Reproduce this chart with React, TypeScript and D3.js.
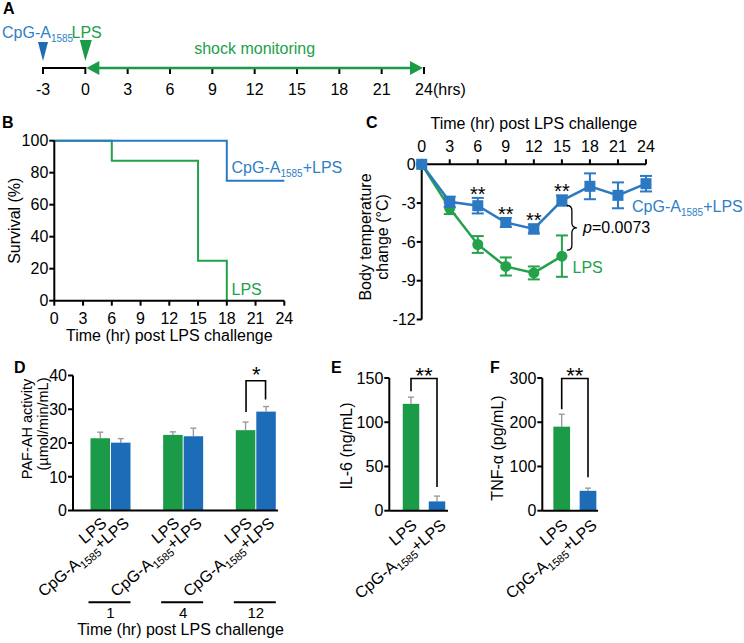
import React from 'react';
import * as d3 from 'd3';

const FONT = "'Liberation Sans', Arial, Helvetica, sans-serif";
const GREEN = '#1b9a48';
const BLUE = '#1d6cb8';
const GREEN_LINE = '#25a14c';
const BLUE_LINE = '#2a79c2';
const BLUE_TEXT = '#2f80c6';
const GREEN_TEXT = '#22a04b';
const ERR = '#9a9a9a';

// ---------- Panel A: timeline ----------
const timelineTicks = [-3, 0, 3, 6, 9, 12, 15, 18, 21, 24];

// ---------- Panel B: survival ----------
const survTimesCpG = [0, 18, 24];
const survValsCpG = [100, 75, 75];
const survTimesLPS = [0, 6, 15, 18];
const survValsLPS = [100, 87.5, 25, 0];
const survXTicks = [0, 3, 6, 9, 12, 15, 18, 21, 24];
const survYTicks = [0, 20, 40, 60, 80, 100];

// ---------- Panel C: body temperature ----------
const tempTimesCpG = [0, 3, 6, 9, 12, 15, 18, 21, 24];
const tempCpG = [0, -2.9, -3.2, -4.5, -5.0, -2.8, -1.7, -2.4, -1.5];
const tempCpGErr = [0, 0.4, 0.6, 0.35, 0.35, 0.4, 1.0, 1.0, 0.6];
const tempTimesLPS = [0, 3, 6, 9, 12, 15];
const tempLPS = [0, -3.4, -6.2, -7.9, -8.4, -7.1];
const tempLPSErr = [0, 0.45, 0.65, 0.7, 0.5, 1.6];
const tempSigTimes = [6, 9, 12, 15];
const tempXTicks = [0, 3, 6, 9, 12, 15, 18, 21, 24];
const tempYTicks = [0, -3, -6, -9, -12];

// ---------- Panel D: PAF-AH ----------
const pafGroups = ['1', '4', '12'];
const pafLPS = [21.4, 22.4, 23.8];
const pafLPSErr = [1.8, 0.9, 2.4];
const pafCpG = [20.1, 22.0, 29.3];
const pafCpGErr = [1.2, 2.4, 1.5];
const pafYTicks = [0, 10, 20, 30, 40];

// ---------- Panel E: IL-6 ----------
const il6Vals = [120.8, 10.5];
const il6Err = [7.5, 6];
const il6YTicks = [0, 50, 100, 150];

// ---------- Panel F: TNF-a ----------
const tnfVals = [190, 45];
const tnfErr = [28, 6];
const tnfYTicks = [0, 100, 200, 300];

const barCats = ['LPS', 'CpG'];

const CpGText = ({ fill, sub = 10 }: { fill: string; sub?: number }) => (
  <>
    <tspan fill={fill}>CpG-A</tspan>
    <tspan fill={fill} fontSize={sub} dy={4}>1585</tspan>
  </>
);

const LeftAxis = ({ scale, ticks, x, fmt }: any) => (
  <g>
    <line x1={x} x2={x} y1={scale(ticks[0])} y2={scale(ticks[ticks.length - 1])} stroke="#000" strokeWidth={2} />
    {ticks.map((t: number) => (
      <g key={t}>
        <line x1={x - 5} x2={x} y1={scale(t)} y2={scale(t)} stroke="#000" strokeWidth={2} />
        <text x={x - 6} y={scale(t)} dy="0.36em" textAnchor="end" fontSize={16}>{fmt ? fmt(t) : t}</text>
      </g>
    ))}
  </g>
);

const RotLabels = ({ cx, y, font = 16 }: { cx: number[]; y: number; font?: number }) => (
  <g fontSize={font}>
    <text transform={`translate(${cx[0] + 7},${y}) rotate(-40)`} textAnchor="end">LPS</text>
    <text transform={`translate(${cx[1] + 10},${y}) rotate(-40)`} textAnchor="end">
      <tspan>CpG-A</tspan>
      <tspan fontSize={11} dy={4}>1585</tspan>
      <tspan dy={-4}>+LPS</tspan>
    </text>
  </g>
);

const ErrUp = ({ x, yTop, yBar, w = 6 }: { x: number; yTop: number; yBar: number; w?: number }) => (
  <g stroke={ERR} strokeWidth={1.4}>
    <line x1={x} x2={x} y1={yBar} y2={yTop} />
    <line x1={x - w / 2} x2={x + w / 2} y1={yTop} y2={yTop} />
  </g>
);

function PanelA() {
  const x = d3.scaleLinear().domain([-3, 24]).range([43, 424]);
  const y0 = 68;
  return (
    <g>
      <text x={3} y={14} fontSize={16} fontWeight="bold">A</text>
      <text x={2} y={38} fontSize={16}><CpGText fill={BLUE_TEXT} /></text>
      <text x={71.5} y={38} fontSize={16} fill={GREEN_TEXT}>LPS</text>
      <polygon points={`${x(-3) - 5},42 ${x(-3) + 5},42 ${x(-3)},61`} fill={BLUE} />
      <polygon points={`${x(0) - 5.5},40 ${x(0) + 6.5},40 ${x(0)},61`} fill={GREEN} />
      <line x1={x(-3)} x2={x(0)} y1={y0} y2={y0} stroke="#000" strokeWidth={2} />
      {timelineTicks.map((t) => (
        <g key={t}>
          <line x1={x(t)} x2={x(t)} y1={y0 - 1} y2={y0 + 6} stroke="#000" strokeWidth={2} />
          <text x={x(t)} y={95} textAnchor="middle" fontSize={16}>{t}</text>
        </g>
      ))}
      <text x={433} y={95} fontSize={16}>(hrs)</text>
      <line x1={x(0) + 8} x2={x(24) - 8} y1={y0} y2={y0} stroke={GREEN} strokeWidth={2.5} />
      <polygon points={`${x(0) + 1},${y0} ${x(0) + 14},${y0 - 7} ${x(0) + 14},${y0 + 7}`} fill={GREEN} />
      <polygon points={`${x(24) - 1},${y0} ${x(24) - 14},${y0 - 7} ${x(24) - 14},${y0 + 7}`} fill={GREEN} />
      <text x={(x(0) + x(24)) / 2} y={54} textAnchor="middle" fontSize={16} fill={GREEN_TEXT}>shock monitoring</text>
    </g>
  );
}

function PanelB() {
  const x = d3.scaleLinear().domain([0, 24]).range([54.3, 284.3]);
  const y = d3.scaleLinear().domain([0, 100]).range([300.7, 140.7]);
  const line = d3.line<[number, number]>().x((d) => x(d[0])).y((d) => y(d[1])).curve(d3.curveStepAfter);
  const cpg = survTimesCpG.map((t, i) => [t, survValsCpG[i]] as [number, number]);
  const lps = survTimesLPS.map((t, i) => [t, survValsLPS[i]] as [number, number]);
  return (
    <g>
      <text x={2} y={128} fontSize={16} fontWeight="bold">B</text>
      <path d={line(lps) || ''} fill="none" stroke={GREEN_LINE} strokeWidth={2} />
      <path d={line(cpg) || ''} fill="none" stroke={BLUE_LINE} strokeWidth={2} />
      <LeftAxis scale={y} ticks={survYTicks} x={x(0)} />
      <line x1={x(0)} x2={x(24)} y1={y(0)} y2={y(0)} stroke="#000" strokeWidth={2} />
      {survXTicks.map((t) => (
        <g key={t}>
          <line x1={x(t)} x2={x(t)} y1={y(0)} y2={y(0) + 5} stroke="#000" strokeWidth={2} />
          <text x={x(t)} y={323.5} textAnchor="middle" fontSize={16}>{t}</text>
        </g>
      ))}
      <text x={(x(0) + x(24)) / 2} y={341} textAnchor="middle" fontSize={16}>Time (hr) post LPS challenge</text>
      <text transform={`translate(20,${(y(0) + y(100)) / 2}) rotate(-90)`} textAnchor="middle" fontSize={16}>Survival (%)</text>
      <text x={231.5} y={173} fontSize={16} fill={BLUE_TEXT}>
        <CpGText fill={BLUE_TEXT} />
        <tspan dy={-4}>+LPS</tspan>
      </text>
      <text x={231.5} y={295} fontSize={16} fill={GREEN_TEXT}>LPS</text>
    </g>
  );
}

function PanelC() {
  const x = d3.scaleLinear().domain([0, 24]).range([421.7, 646]);
  const y = d3.scaleLinear().domain([-12, 0]).range([319.5, 164.3]);
  const cpgPts = tempTimesCpG.map((t, i) => [x(t), y(tempCpG[i])] as [number, number]);
  const lpsPts = tempTimesLPS.map((t, i) => [x(t), y(tempLPS[i])] as [number, number]);
  const lineGen = d3.line<[number, number]>();
  const cap = 6;
  const i15 = tempTimesCpG.indexOf(15);
  const l15 = tempTimesLPS.indexOf(15);
  const bx = x(15) + 5;
  const bTop = y(tempCpG[i15]) + 5;
  const bBot = y(tempLPS[l15]) - 6;
  const bMid = (bTop + bBot) / 2;
  const brace = `M ${bx} ${bTop} Q ${bx + 5} ${bTop} ${bx + 5} ${bTop + 5} L ${bx + 5} ${bMid - 5} Q ${bx + 5} ${bMid} ${bx + 10} ${bMid} Q ${bx + 5} ${bMid} ${bx + 5} ${bMid + 5} L ${bx + 5} ${bBot - 5} Q ${bx + 5} ${bBot} ${bx} ${bBot}`;
  return (
    <g>
      <text x={366} y={128} fontSize={16} fontWeight="bold">C</text>
      <text x={(x(0) + x(24)) / 2} y={129} textAnchor="middle" fontSize={16}>Time (hr) post LPS challenge</text>
      <line x1={x(0)} x2={x(24)} y1={y(0)} y2={y(0)} stroke="#000" strokeWidth={2} />
      {tempXTicks.map((t) => (
        <g key={t}>
          <line x1={x(t)} x2={x(t)} y1={y(0)} y2={y(0) - 5} stroke="#000" strokeWidth={2} />
          <text x={x(t)} y={152} textAnchor="middle" fontSize={16}>{t}</text>
        </g>
      ))}
      <LeftAxis scale={y} ticks={tempYTicks} x={x(0)} />
      <text transform={`translate(371,237) rotate(-90)`} textAnchor="middle" fontSize={16}>Body temperature</text>
      <text transform={`translate(388,237) rotate(-90)`} textAnchor="middle" fontSize={16}>change (°C)</text>
      <path d={lineGen(lpsPts) || ''} fill="none" stroke={GREEN_LINE} strokeWidth={2.5} />
      {tempTimesLPS.map((t, i) =>
        tempLPSErr[i] > 0 ? (
          <g key={t} stroke={GREEN_LINE} strokeWidth={2}>
            <line x1={x(t)} x2={x(t)} y1={y(tempLPS[i] - tempLPSErr[i])} y2={y(tempLPS[i] + tempLPSErr[i])} />
            <line x1={x(t) - cap} x2={x(t) + cap} y1={y(tempLPS[i] - tempLPSErr[i])} y2={y(tempLPS[i] - tempLPSErr[i])} />
            <line x1={x(t) - cap} x2={x(t) + cap} y1={y(tempLPS[i] + tempLPSErr[i])} y2={y(tempLPS[i] + tempLPSErr[i])} />
          </g>
        ) : null
      )}
      {lpsPts.map((p, i) => (
        <circle key={i} cx={p[0]} cy={p[1]} r={5.5} fill={GREEN_LINE} />
      ))}
      <path d={lineGen(cpgPts) || ''} fill="none" stroke={BLUE_LINE} strokeWidth={2.5} />
      {tempTimesCpG.map((t, i) =>
        tempCpGErr[i] > 0 ? (
          <g key={t} stroke={BLUE_LINE} strokeWidth={2}>
            <line x1={x(t)} x2={x(t)} y1={y(tempCpG[i] - tempCpGErr[i])} y2={y(tempCpG[i] + tempCpGErr[i])} />
            <line x1={x(t) - cap} x2={x(t) + cap} y1={y(tempCpG[i] - tempCpGErr[i])} y2={y(tempCpG[i] - tempCpGErr[i])} />
            <line x1={x(t) - cap} x2={x(t) + cap} y1={y(tempCpG[i] + tempCpGErr[i])} y2={y(tempCpG[i] + tempCpGErr[i])} />
          </g>
        ) : null
      )}
      {cpgPts.map((p, i) => (
        <rect key={i} x={p[0] - 5.5} y={p[1] - 5.5} width={11} height={11} fill={BLUE_LINE} />
      ))}
      {tempSigTimes.map((t) => {
        const i = tempTimesCpG.indexOf(t);
        return (
          <text key={t} x={x(t)} y={y(tempCpG[i] + tempCpGErr[i]) + 3} textAnchor="middle" fontSize={20}>**</text>
        );
      })}
      <path d={brace} fill="none" stroke="#000" strokeWidth={1.3} />
      <text x={583} y={233} fontSize={16}>
        <tspan fontStyle="italic">p</tspan>=0.0073
      </text>
      <text x={632} y={211.5} fontSize={16} fill={BLUE_TEXT}>
        <CpGText fill={BLUE_TEXT} />
        <tspan dy={-4}>+LPS</tspan>
      </text>
      <text x={572.5} y={273} fontSize={16} fill={GREEN_TEXT}>LPS</text>
    </g>
  );
}

function PanelD() {
  const y = d3.scaleLinear().domain([0, 40]).range([510.5, 375.5]);
  const cx = d3.scalePoint<string>().domain(pafGroups).range([110.5, 255.8]);
  const bw = 19.5;
  const xAxis0 = 73;
  const xAxis1 = 278;
  const g3 = cx('12')!;
  return (
    <g>
      <text x={14} y={373} fontSize={16} fontWeight="bold">D</text>
      {pafGroups.map((g, i) => {
        const c = cx(g)!;
        return (
          <g key={g}>
            <ErrUp x={c - bw / 2 - 0.5} yBar={y(pafLPS[i])} yTop={y(pafLPS[i] + pafLPSErr[i])} />
            <ErrUp x={c + bw / 2 + 0.5} yBar={y(pafCpG[i])} yTop={y(pafCpG[i] + pafCpGErr[i])} />
            <rect x={c - bw - 0.5} y={y(pafLPS[i])} width={bw} height={y(0) - y(pafLPS[i])} fill={GREEN} />
            <rect x={c + 0.5} y={y(pafCpG[i])} width={bw} height={y(0) - y(pafCpG[i])} fill={BLUE} />
            <RotLabels cx={[c - bw / 2, c + bw / 2]} y={525} />
            <line x1={c - 22} x2={c + 20} y1={602.3} y2={602.3} stroke="#000" strokeWidth={2} />
            <text x={c} y={618} textAnchor="middle" fontSize={15}>{g}</text>
          </g>
        );
      })}
      <LeftAxis scale={y} ticks={pafYTicks} x={xAxis0} />
      <line x1={xAxis0} x2={xAxis1} y1={y(0)} y2={y(0)} stroke="#000" strokeWidth={2} />
      <text transform={`translate(31.5,429) rotate(-90)`} textAnchor="middle" fontSize={14.5}>PAF-AH activity</text>
      <text transform={`translate(48,424) rotate(-90)`} textAnchor="middle" fontSize={14.5}>(µmol/min/mL)</text>
      <text x={(xAxis0 + xAxis1) / 2 + 5} y={634.5} textAnchor="middle" fontSize={16}>Time (hr) post LPS challenge</text>
      <path
        d={`M ${g3 - bw / 2} ${y(pafLPS[2] + pafLPSErr[2]) - 10} V 380.7 H ${g3 + bw / 2} V ${y(pafCpG[2] + pafCpGErr[2]) - 7}`}
        fill="none" stroke="#000" strokeWidth={1.6}
      />
      <text x={g3 + 0.5} y={382} textAnchor="middle" fontSize={22}>*</text>
    </g>
  );
}

function SmallBar({ letter, vals, errs, ticks, domainMax, axisX, axisEnd, centers, bw, label, letterX, labelX, labelY, sigTop }: any) {
  const y = d3.scaleLinear().domain([0, domainMax]).range([510.7, 378]);
  const cx = d3.scalePoint<string>().domain(barCats).range(centers);
  const c0 = cx('LPS')!;
  const c1 = cx('CpG')!;
  const colors = [GREEN, BLUE];
  return (
    <g>
      <text x={letterX} y={373} fontSize={16} fontWeight="bold">{letter}</text>
      {barCats.map((k, i) => {
        const c = cx(k)!;
        return (
          <g key={k}>
            <ErrUp x={c} yBar={y(vals[i])} yTop={y(vals[i] + errs[i])} />
            <rect x={c - bw / 2} y={y(vals[i])} width={bw} height={y(0) - y(vals[i])} fill={colors[i]} />
          </g>
        );
      })}
      <LeftAxis scale={y} ticks={ticks} x={axisX} />
      <line x1={axisX} x2={axisEnd} y1={y(0)} y2={y(0)} stroke="#000" strokeWidth={2} />
      <RotLabels cx={[c0, c1]} y={527} />
      <text transform={`translate(${labelX},${labelY}) rotate(-90)`} textAnchor="middle" fontSize={16}>{label}</text>
      <path
        d={`M ${c0} ${y(vals[0] + errs[0]) - sigTop[0]} V 378.5 H ${c1} V ${y(vals[1] + errs[1]) - sigTop[1]}`}
        fill="none" stroke="#000" strokeWidth={1.6}
      />
      <text x={(c0 + c1) / 2} y={383} textAnchor="middle" fontSize={22}>**</text>
    </g>
  );
}

export default function App() {
  return (
    <svg
      width={744}
      height={643}
      viewBox="0 0 744 643"
      style={{ position: 'absolute', left: 0, top: 0, background: '#fff' }}
      fontFamily={FONT}
    >
      <rect width={744} height={643} fill="#fff" />
      <PanelA />
      <PanelB />
      <PanelC />
      <PanelD />
      <SmallBar
        letter="E" vals={il6Vals} errs={il6Err} ticks={il6YTicks} domainMax={150}
        axisX={389.3} axisEnd={448} centers={[411, 437]} bw={16.5}
        label="IL-6 (ng/mL)" letterX={331} labelX={352} labelY={446} sigTop={[6, 9]}
      />
      <SmallBar
        letter="F" vals={tnfVals} errs={tnfErr} ticks={tnfYTicks} domainMax={300}
        axisX={542.3} axisEnd={598} centers={[561.7, 588]} bw={16.7}
        label="TNF-α (pg/mL)" letterX={490} labelX={503} labelY={448} sigTop={[5, 11]}
      />
    </svg>
  );
}
